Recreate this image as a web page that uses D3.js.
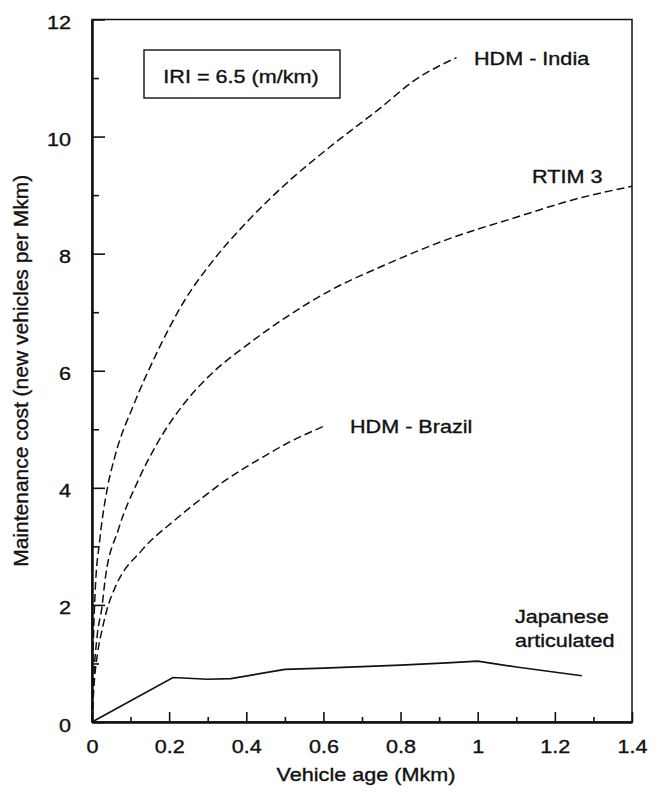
<!DOCTYPE html>
<html>
<head>
<meta charset="utf-8">
<script src="https://cdn.jsdelivr.net/npm/d3@7"></script>
<style>
  html, body { margin: 0; padding: 0; background: #fff; }
  svg { display: block; }
  text { font-family: "Liberation Sans", Arial, Helvetica, sans-serif; fill: #111; stroke: #111; stroke-width: 0.35; }
</style>
</head>
<body>
<svg id="chart" width="660" height="793"></svg>
<script>
// ---------- data ----------
const xTicksMajor = [0, 0.2, 0.4, 0.6, 0.8, 1, 1.2, 1.4];
const xTicksMinor = [0.1, 0.3, 0.5, 0.7, 0.9, 1.1, 1.3];
const yTicksMajor = [0, 2, 4, 6, 8, 10, 12];
const yTicksMinor = [1, 3, 5, 7, 9, 11];

const hdmIndia = [
  [0, 0], [0.003, 1.2], [0.008, 2.2], [0.02, 3.1], [0.04, 4.0], [0.06, 4.55],
  [0.11, 5.45], [0.164, 6.25], [0.24, 7.2], [0.31, 7.85], [0.4, 8.53],
  [0.514, 9.26], [0.618, 9.83], [0.748, 10.49], [0.834, 10.95], [0.945, 11.35]
];
const rtim3 = [
  [0, 0], [0.005, 0.8], [0.013, 1.45], [0.026, 1.97], [0.034, 2.43], [0.068, 3.28],
  [0.12, 4.13], [0.17, 4.77], [0.24, 5.45], [0.31, 5.95], [0.40, 6.43],
  [0.50, 6.9], [0.62, 7.38], [0.75, 7.78], [0.92, 8.24], [1.094, 8.61],
  [1.27, 8.96], [1.4, 9.15]
];
const hdmBrazil = [
  [0, 0], [0.005, 0.6], [0.015, 1.2], [0.026, 1.57], [0.041, 1.97], [0.06, 2.3],
  [0.13, 2.94], [0.215, 3.45], [0.29, 3.85], [0.34, 4.1], [0.444, 4.53],
  [0.50, 4.74], [0.6, 5.05]
];
const japanese = [
  [0, 0], [0.21, 0.76], [0.3, 0.73], [0.36, 0.74], [0.5, 0.9], [0.6, 0.92],
  [0.8, 0.97], [0.92, 1.01], [1.0, 1.04], [1.1, 0.94], [1.27, 0.79]
];

const xTitle = "Vehicle age (Mkm)";
const yTitle = "Maintenance cost (new vehicles per Mkm)";
const boxLabel = "IRI = 6.5 (m/km)";

// ---------- layout ----------
const svg = d3.select("#chart");
const L = 92, R = 632, T = 19.5, B = 722;
const x = d3.scaleLinear().domain([0, 1.4]).range([L, R]);
const y = d3.scaleLinear().domain([0, 12]).range([B, T]);
const SX = 1.2; // horizontal stretch of the printed lettering

// frame
svg.append("rect").attr("x", L).attr("y", T).attr("width", R - L).attr("height", B - T)
  .attr("fill", "none").attr("stroke", "#111").attr("stroke-width", 1.5);

// y axis
const yMaj = svg.append("g").attr("transform", `translate(${L},0)`)
  .call(d3.axisLeft(y).tickValues(yTicksMajor).tickSize(-13).tickSizeOuter(0).tickPadding(17.5).tickFormat(d3.format("d")));
const yMin = svg.append("g").attr("transform", `translate(${L},0)`)
  .call(d3.axisLeft(y).tickValues(yTicksMinor).tickSize(-7).tickSizeOuter(0).tickFormat(""));
// x axis
const xMaj = svg.append("g").attr("transform", `translate(0,${B})`)
  .call(d3.axisBottom(x).tickValues(xTicksMajor).tickSize(-10).tickSizeOuter(0).tickPadding(18.5).tickFormat(d => d3.format("~g")(d)));
const xMin = svg.append("g").attr("transform", `translate(0,${B})`)
  .call(d3.axisBottom(x).tickValues(xTicksMinor).tickSize(-5).tickSizeOuter(0).tickFormat(""));

[yMaj, yMin, xMaj, xMin].forEach(g => {
  g.select(".domain").attr("stroke", "#111").attr("stroke-width", 2);
  g.selectAll(".tick line").attr("stroke", "#111").attr("stroke-width", 1.6);
  g.selectAll("text").attr("font-size", 18).attr("fill", "#111")
    .attr("font-family", '"Liberation Sans", Arial, sans-serif');
});
yMaj.selectAll("text").attr("transform", `scale(${SX},1)`).attr("dy", "0.5em");
xMaj.selectAll("text").attr("transform", `scale(${SX},1)`);

// helper for stretched horizontal text
function label(str, px, py, anchor = "start", size = 18) {
  svg.append("text").attr("transform", `translate(${px},${py}) scale(${SX},1)`)
    .attr("text-anchor", anchor).attr("font-size", size).text(str);
}

// titles
label(xTitle, (L + R) / 2 + 4, 781, "middle");
svg.append("text").attr("transform", `translate(27.5,${(T + B) / 2}) rotate(-90)`)
  .attr("text-anchor", "middle").attr("font-size", 21).text(yTitle);

// IRI box
svg.append("rect").attr("x", 144).attr("y", 50).attr("width", 196).attr("height", 48)
  .attr("fill", "none").attr("stroke", "#111").attr("stroke-width", 1.4);
label(boxLabel, 241, 83, "middle");

// curves
const line = d3.line().x(d => x(d[0])).y(d => y(d[1])).curve(d3.curveMonotoneX);
[hdmIndia, rtim3, hdmBrazil].forEach(s => {
  svg.append("path").datum(s).attr("d", line).attr("fill", "none")
    .attr("stroke", "#111").attr("stroke-width", 1.5).attr("stroke-dasharray", "8,4");
});
svg.append("path").datum(japanese).attr("d", d3.line().x(d => x(d[0])).y(d => y(d[1])))
  .attr("fill", "none").attr("stroke", "#111").attr("stroke-width", 1.7);

// curve labels
label("HDM\u00a0-\u00a0India", 474, 65);
label("RTIM 3", 532, 183);
label("HDM - Brazil", 350, 433);
label("Japanese", 515, 623);
label("articulated", 515, 647);
</script>
</body>
</html>
